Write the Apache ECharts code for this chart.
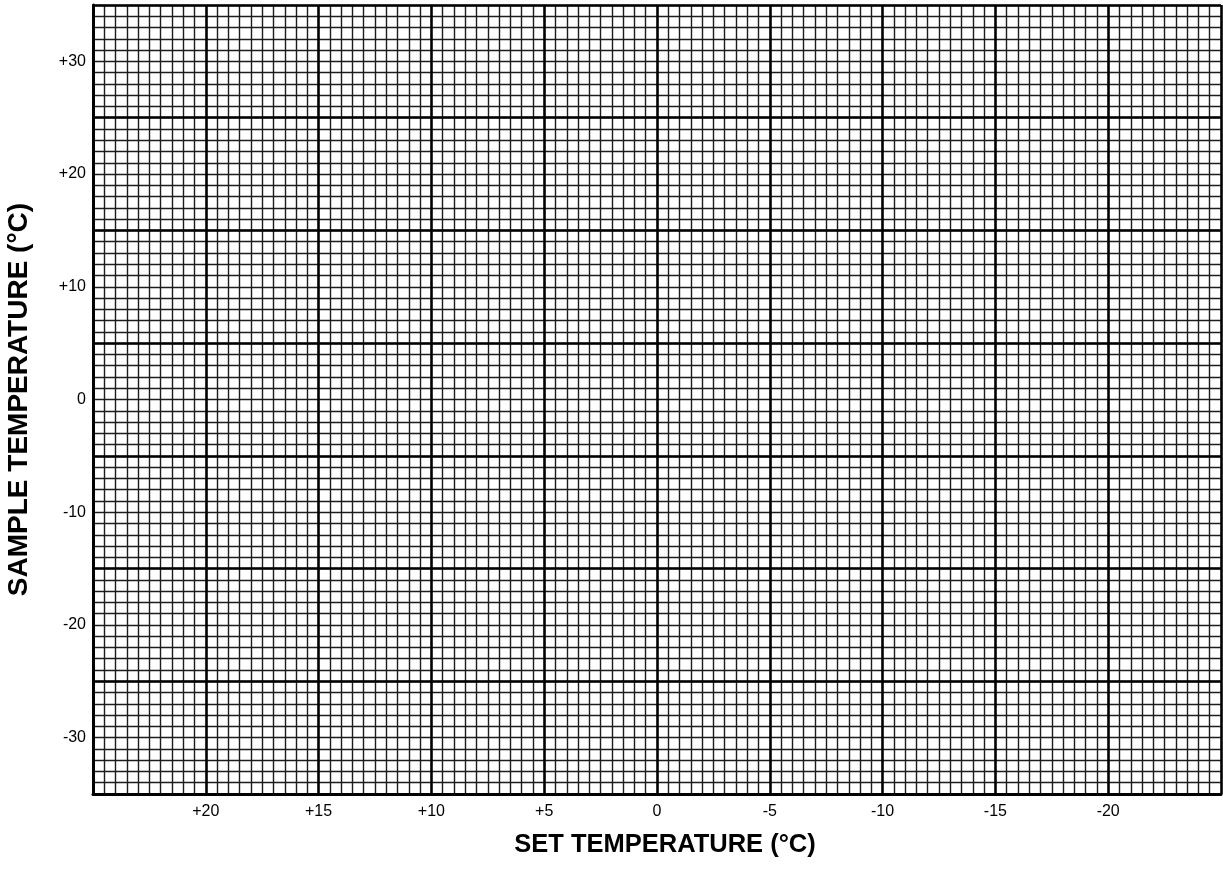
<!DOCTYPE html>
<html>
<head>
<meta charset="utf-8">
<title>Set vs Sample Temperature</title>
<script src="https://cdn.jsdelivr.net/npm/echarts@6/dist/echarts.min.js"></script>
<style>
  html, body { margin: 0; padding: 0; background: #ffffff; }
  #chart { width: 1223px; height: 870px; }
</style>
</head>
<body>
<div id="chart"></div>
<script>
// Set temperature axis (°C): runs from +25 on the left to -25 on the right
const setTempMin = -25;
const setTempMax = 25;
const setTempStep = 5;          // heavy rule every 5 °C
const setTempSubdivisions = 10; // small squares of 0.5 °C
const setTempTickValues = [20, 15, 10, 5, 0, -5, -10, -15, -20];
const setTempTickLabels = ['+20', '+15', '+10', '+5', '0', '-5', '-10', '-15', '-20'];

// Sample temperature axis (°C)
const sampleTempMin = -35;
const sampleTempMax = 35;
const sampleTempStep = 5;
const sampleTempSubdivisions = 5;  // small squares of 1 °C
const sampleTempTickValues = [30, 20, 10, 0, -10, -20, -30];
const sampleTempTickLabels = ['+30', '+20', '+10', '0', '-10', '-20', '-30'];
// heavy rules of the graph paper (every tenth small square)
const sampleTempHeavyRules = [-35, -25, -15, -5, 5, 15, 25, 35];

const FONT = '"Liberation Sans", Arial, Helvetica, sans-serif';
const INK = '#000000';
const FINE = '#1c1c1c';

function labelFor(values, labels) {
  return function (v) {
    const i = values.findIndex(function (t) { return Math.abs(t - v) < 1e-6; });
    return i >= 0 ? labels[i] : '';
  };
}

const chart = echarts.init(document.getElementById('chart'), null, { renderer: 'canvas' });

chart.setOption({
  animation: false,
  backgroundColor: '#ffffff',
  grid: {
    left: 93, top: 5, width: 1128, height: 789,
    containLabel: false,
    outerBoundsMode: 'none'
  },
  xAxis: {
    type: 'value',
    inverse: true,
    min: setTempMin,
    max: setTempMax,
    interval: setTempStep,
    name: 'SET TEMPERATURE (°C)',
    nameLocation: 'middle',
    nameGap: 38,
    nameTextStyle: {
      fontFamily: FONT, fontWeight: 'bold', fontSize: 25.5, color: INK,
      padding: [0, 0, 0, 16]
    },
    axisLine: { show: true, onZero: false, lineStyle: { color: INK, width: 3 } },
    axisTick: { show: false },
    axisLabel: {
      show: true,
      margin: 10,
      fontFamily: FONT,
      fontSize: 16,
      color: INK,
      showMinLabel: false,
      showMaxLabel: false,
      formatter: labelFor(setTempTickValues, setTempTickLabels)
    },
    splitLine: { show: true, lineStyle: { color: INK, width: 2.6 } },
    minorTick: { show: false, splitNumber: setTempSubdivisions },
    minorSplitLine: { show: true, lineStyle: { color: FINE, width: 1.4 } }
  },
  yAxis: {
    type: 'value',
    min: sampleTempMin,
    max: sampleTempMax,
    interval: sampleTempStep,
    name: 'SAMPLE TEMPERATURE (°C)',
    nameLocation: 'middle',
    nameRotate: 90,
    nameGap: 60,
    nameTextStyle: { fontFamily: FONT, fontWeight: 'bold', fontSize: 28, color: INK },
    axisLine: { show: true, onZero: false, lineStyle: { color: INK, width: 3 } },
    axisTick: { show: false },
    axisLabel: {
      show: true,
      margin: 7,
      fontFamily: FONT,
      fontSize: 16,
      color: INK,
      formatter: labelFor(sampleTempTickValues, sampleTempTickLabels)
    },
    splitLine: { show: true, lineStyle: { color: FINE, width: 1.4 } },
    minorTick: { show: false, splitNumber: sampleTempSubdivisions },
    minorSplitLine: { show: true, lineStyle: { color: FINE, width: 1.4 } }
  },
  series: [{
    type: 'line',
    data: [],
    silent: true,
    markLine: {
      silent: true,
      symbol: 'none',
      label: { show: false },
      lineStyle: { color: INK, width: 2.6, type: 'solid' },
      data: sampleTempHeavyRules.map(function (v) { return { yAxis: v }; })
    }
  }]
});
</script>
</body>
</html>
